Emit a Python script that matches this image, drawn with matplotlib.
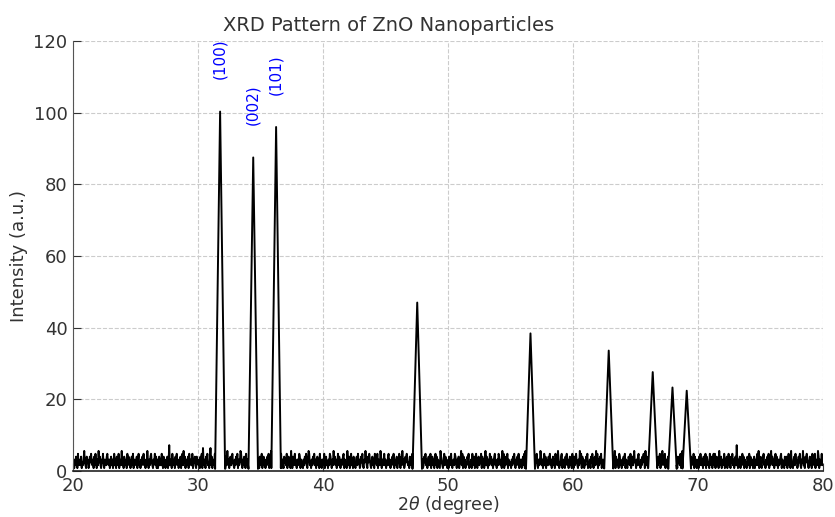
import numpy as np
import matplotlib
matplotlib.use('Agg')
import matplotlib.pyplot as plt

# peak table
peak_pos = [31.77, 34.42, 36.25, 47.54, 56.60, 62.86, 66.38, 67.96, 69.10]
peak_int = [100.3, 87.5, 96.0, 47.0, 38.4, 33.6, 27.6, 23.3, 22.4]
peak_hw = [0.40, 0.38, 0.38, 0.38, 0.36, 0.36, 0.36, 0.34, 0.34]
peak_feet = [0.6, 0.6, 0.8, 0.6, 0.6, 0.7, 0.8, 0.6, 0.7]

# labelled reflections
hkl_labels = ['(100)', '(002)', '(101)']

# background noise, 20 to 80 deg, one digit per 0.05 deg (read roughly)
noise_rows = [
    "2314253162" "3425132473" "2153412536" "3241526314" "2735214362",
    "1432563241" "3524136241" "5326142372" "4153241635" "2413526134",
    "3251462314" "2536241327" "3142563214" "3625141352" "4263152413",
    "2513924316" "3241536241" "2351462735" "1423516342" "2614352153",
    "3241526183" "2415362314" "8251432641" "3526142315" "2436152734",
    "1352463214" "2536142376" "3142531624" "2415362143" "5213642315",
    "2461352314" "2536124715" "3241652314" "2536142153" "4261352417",
    "3152462314" "2365142314" "2536214762" "3142536241" "3524163214",
    "2361452314" "2653142735" "2413625314" "2356142317" "4251362415",
    "3214526341" "2536214374" "2153642135" "2416352614" "3275142362",
    "4132562413" "2536142351" "4362152734" "1253642315" "2436152413",
    "2531462374" "1253624135" "2461352413" "6251432175" "3214625341",
    "3152462134" "2653142514" "3726152413" "2546132416" "3251462135",
    "2436152413" "7253142635" "2413562314" "2653241736" "1425361423",
    "3142536214" "2536142413" "5261734152" "3642153241" "5362142375",
    "2413625143" "2536241352" "4163527413" "2561342153" "6241352416",
    "3152463214" "2736152413" "2546132415" "3621452736" "1425361342",
    "2536142314" "2654132715" "3241652314" "2536142135" "4261352473",
    "3142562314" "2536417253" "1426352413" "2563142536" "1427352614",
    "2351462314" "2653142153" "4261372415" "3162542315" "2436152413",
    "4152632415" "3261542316" "3251462613" "5241732514" "3261425136",
    "2415362413" "5293142514" "2635142315" "4261532413" "5142362715",
    "3215462314" "2536142735" "2413625314" "2356142315" "4251362417",
    "2314526341" "2536214372" "2153642135" "2416352614" "3275142362",
    "3",
]

noise = np.array([int(c) for c in "".join(noise_rows)], dtype=float) * 0.8
x_noise = np.linspace(20, 80, len(noise))

# drop background points under the peaks, then add the peak points
keep = np.ones(len(x_noise), dtype=bool)
for c, hw in zip(peak_pos, peak_hw):
    keep &= np.abs(x_noise - c) > hw
xs = list(x_noise[keep])
ys = list(noise[keep])
for c, h, hw, f in zip(peak_pos, peak_int, peak_hw, peak_feet):
    xs += [c - hw, c, c + hw]
    ys += [f, h, f]
order = np.argsort(xs)
xs = np.array(xs)[order]
ys = np.array(ys)[order]

fig = plt.figure(figsize=(8.35, 5.17), dpi=100)
ax = fig.add_axes([0.0874, 0.089, 0.8982, 0.8317])

ax.plot(xs, ys, color='black', linewidth=1.4)

for lab, c, h in zip(hkl_labels, peak_pos, peak_int):
    ax.text(c, h + 9, lab, rotation=90, color='blue', fontsize=11,
            ha='center', va='bottom')

ax.set_xlim(20, 80)
ax.set_ylim(0, 120)
ax.set_xticks(np.arange(20, 81, 10))
ax.set_yticks(np.arange(0, 121, 20))
ax.grid(True, linestyle='--', color='#cccccc', linewidth=0.8)
ax.set_axisbelow(True)

for s in ['top', 'right']:
    ax.spines[s].set_visible(False)
ax.spines['left'].set_color('#555555')
ax.spines['bottom'].set_color('#222222')
ax.spines['bottom'].set_linewidth(1.2)
ax.tick_params(labelsize=13, colors='#333333', direction='in', length=6,
               width=0.8, pad=4)

ax.set_xlabel(r'2$\theta$ (degree)', fontsize=12.5, color='#333333')
ax.xaxis.set_label_coords(0.5, -0.053)
ax.set_ylabel('Intensity (a.u.)', fontsize=13, color='#333333')
ax.set_title('XRD Pattern of ZnO Nanoparticles', fontsize=14, color='#333333',
             x=0.4213, pad=7)

fig.savefig('out.png', dpi=100)
